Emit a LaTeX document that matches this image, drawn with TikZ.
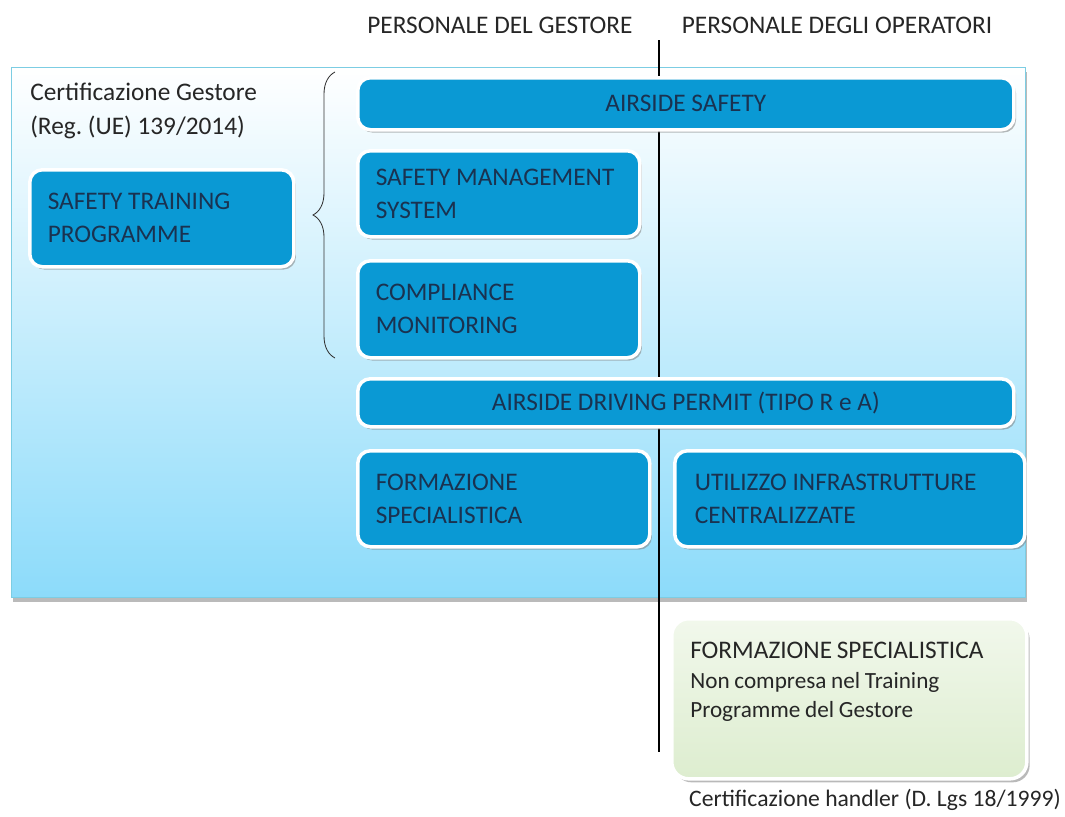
\documentclass[tikz,border=0pt]{standalone}
\usepackage{fontspec}
\setmainfont{Carlito}
\usetikzlibrary{positioning, shadows, decorations.pathreplacing}
\definecolor{cgblue}{HTML}{0A99D4}
\definecolor{cgtext}{HTML}{1A3250}
\definecolor{cgsky}{HTML}{8CDBFA}
\definecolor{cgedge}{HTML}{7CCDE3}
\definecolor{cggreen}{HTML}{DDEDCF}

\begin{document}
\begin{tikzpicture}[
    x=0.025cm, y=-0.025cm,
    bluebox/.style={rectangle, anchor=north west, fill=cgblue, draw=white, line width=2.5pt, rounded corners=9pt, text=cgtext, font=\fontsize{18}{23.4}\selectfont, align=left, inner xsep=0.45cm, inner ysep=0pt, execute at begin node={\spaceskip=\fontdimen2\font\xspaceskip=\fontdimen2\font\relax}, drop shadow={shadow xshift=1.5pt, shadow yshift=-2pt, fill=black!50, opacity=0.55}},
    widebox/.style={bluebox, align=center, text width=15.5cm, minimum height=1.3cm},
    greenbox/.style={rectangle, anchor=north west, top color=cggreen!40!white, bottom color=cggreen, draw=white, line width=2.5pt, rounded corners=12pt, drop shadow={shadow xshift=2pt, shadow yshift=-2.5pt, fill=black!50, opacity=0.55}},
    panel/.style={rectangle, anchor=north west, top color=white, middle color=cgsky!30, bottom color=cgsky, draw=cgedge, line width=0.6pt, drop shadow={shadow xshift=1pt, shadow yshift=-3pt, fill=black!45, opacity=0.6}},
    lbl/.style={font=\fontsize{18}{24}\selectfont, text=black!85, inner sep=0pt},
    divider/.style={draw=black, line width=0.8pt},
    bracestyle/.style={draw=black!80, line width=0.6pt, decorate, decoration={brace, amplitude=0.55cm}}
]
\useasboundingbox (0,0) rectangle (1065,816);

% background panel and headings
\node[panel, minimum width=25.35cm, minimum height=13.25cm] (frame) at (11,67) {};
\node[lbl] (hdgestore) at (500,25) {PERSONALE DEL GESTORE};
\node[lbl] (hdoperatori) at (837,25) {PERSONALE DEGLI OPERATORI};

% divider between the two groups
\coordinate (divtop) at (659,40);
\coordinate (divbot) at (659,752);
\draw[divider] (divtop) -- (divbot);

\node[lbl, anchor=west, align=left] (certgest) at (30,111) {Certificazione Gestore\\(Reg.\ (UE) 139/2014)};
\node[bluebox, text width=5.7cm, minimum height=2.425cm] (stp) at (28,168) {SAFETY TRAINING\\PROGRAMME};

\coordinate (bracebot) at (335,358);
\coordinate (bracetop) at (335,72);
\draw[bracestyle] (bracebot) -- (bracetop);

% blue boxes
\node[widebox] (airside) at (356,76) {AIRSIDE SAFETY};
\node[bluebox, text width=6.15cm, minimum height=2.15cm] (sms) at (356,149) {SAFETY MANAGEMENT\\SYSTEM};
\node[bluebox, text width=6.15cm, minimum height=2.425cm] (compl) at (356,259) {COMPLIANCE\\MONITORING};
\node[widebox, minimum height=1.2cm] (driving) at (356,377) {AIRSIDE DRIVING PERMIT (TIPO R e A)};
\node[bluebox, text width=6.4cm, minimum height=2.4cm] (formspec) at (356,449) {FORMAZIONE\\SPECIALISTICA};
\node[bluebox, text width=7.75cm, minimum height=2.4cm, inner xsep=0.5cm] (infra) at (673,449) {UTILIZZO INFRASTRUTTURE\\CENTRALIZZATE};

% handler box outside the panel
\node[greenbox, minimum width=8.875cm, minimum height=4cm] (handler) at (670,617) {};
\node[anchor=north west, align=left, text width=8cm, inner sep=0pt, text=black!85] (handlertxt) at ([xshift=0.5cm, yshift=-0.62cm]handler.north west)
    {\fontsize{18}{21}\selectfont FORMAZIONE SPECIALISTICA\\
     \fontsize{16.5}{21}\selectfont Non compresa nel Training\\Programme del Gestore\par};
\node[lbl, font=\fontsize{16.8}{24}\selectfont] (handlerlbl) at (875,800) {Certificazione handler (D. Lgs 18/1999)};
\end{tikzpicture}
\end{document}
